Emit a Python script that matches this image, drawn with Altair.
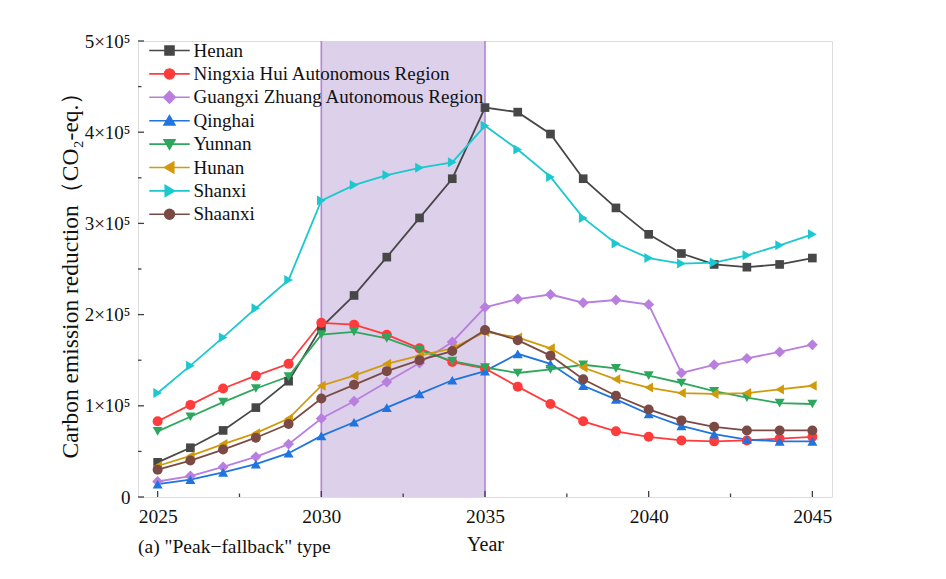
import altair as alt
import pandas as pd

FONT = "Liberation Serif"

years = list(range(2025, 2046))
regions = ["Henan", "Ningxia Hui Autonomous Region", "Guangxi Zhuang Autonomous Region",
           "Qinghai", "Yunnan", "Hunan", "Shanxi", "Shaanxi"]

henan = [38, 54, 73, 98, 127, 186, 221, 263, 306, 349, 427, 422, 398, 349, 317, 288, 267, 255, 252, 255, 262]
ningxia = [83, 101, 119, 133, 146, 191, 189, 178, 163, 148, 141, 121, 102, 83, 72, 66, 62, 61, 62, 64, 66]
guangxi = [17, 23, 33, 44, 58, 86, 105, 126, 147, 170, 208, 217, 222, 213, 216, 211, 136, 145, 152, 159, 167]
qinghai = [14, 19, 27, 36, 48, 67, 82, 98, 113, 128, 138, 157, 146, 122, 107, 91, 78, 69, 63, 61, 61]
yunnan = [72, 88, 104, 119, 132, 178, 181, 174, 161, 149, 142, 136, 140, 145, 141, 133, 125, 116, 109, 103, 102]
hunan = [34, 45, 58, 70, 86, 122, 133, 146, 155, 163, 181, 175, 163, 142, 129, 120, 114, 113, 114, 118, 122]
shanxi = [114, 144, 175, 207, 238, 325, 342, 353, 361, 367, 407, 381, 351, 306, 278, 262, 256, 257, 265, 276, 288]
shaanxi = [30, 40, 52, 65, 80, 108, 123, 138, 150, 160, 183, 172, 155, 129, 111, 96, 84, 77, 73, 73, 73]
series = [henan, ningxia, guangxi, qinghai, yunnan, hunan, shanxi, shaanxi]  # thousand t

colors = ["#474747", "#ff3b3b", "#b87fdf", "#1f74e0", "#2ea75e", "#d19a0c", "#1bc8cf", "#7b4a44"]
shapes = ["square", "circle", "diamond", "triangle-up", "triangle-down", "triangle-left",
          "triangle-right", "circle"]
sizes = [75, 100, 120, 100, 100, 100, 100, 100]
legend_paths = [
    "M-4.5,0H4.5M-1,-1H1V1H-1Z",
    "M-4.5,0H4.5M-1.1,0A1.1,1.1,0,1,1,1.1,0A1.1,1.1,0,1,1,-1.1,0Z",
    "M-4.5,0H4.5M-1.3,0L0,-1.3L1.3,0L0,1.3Z",
    "M-4.5,0H4.5M0,-1.1L-1.2,0.95L1.2,0.95Z",
    "M-4.5,0H4.5M0,1.1L-1.2,-0.95L1.2,-0.95Z",
    "M-4.5,0H4.5M-1.1,0L0.95,-1.2L0.95,1.2Z",
    "M-4.5,0H4.5M1.1,0L-0.95,-1.2L-0.95,1.2Z",
    "M-4.5,0H4.5M-1.1,0A1.1,1.1,0,1,1,1.1,0A1.1,1.1,0,1,1,-1.1,0Z",
]

band_start = [2030]
band_end = [2035]
x_major_ticks = [2025, 2030, 2035, 2040, 2045]
x_minor_ticks = [2027.5, 2032.5, 2037.5, 2042.5]
y_major_ticks = [0, 100000, 200000, 300000, 400000, 500000]
y_minor_ticks = [50000, 150000, 250000, 350000, 450000]

rows = []
for r, vals, c, s, z in zip(regions, series, colors, shapes, sizes):
    for yr, v in zip(years, vals):
        rows.append({"Region": r, "Year": yr, "Value": v * 1000, "Color": c, "Marker": s, "Size": z})
df = pd.DataFrame(rows)

W, H = 694, 456
frame_color = "#404040"

xscale = alt.Scale(domain=[2024.4, 2045.6], nice=False, zero=False)
yscale = alt.Scale(domain=[0, 500000], nice=False)
xaxis = alt.Axis(values=x_major_ticks, format="d", title="Year", ticks=False, domain=False,
                 grid=False, labelFont=FONT, labelFontSize=19.5, labelColor="#111",
                 labelPadding=10, titleFont=FONT, titleFontSize=20, titleFontWeight="normal",
                 titleColor="#111", titlePadding=9)
yaxis = alt.Axis(values=y_major_ticks, title="Carbon emission reduction（CO₂-eq.）",
                 labelExpr="datum.value == 0 ? '0' : format(datum.value / 100000, 'd') + '×10⁵'",
                 ticks=False, domain=False, grid=False, labelFont=FONT, labelFontSize=19,
                 labelColor="#111", labelPadding=8, titleFont=FONT, titleFontSize=23.5,
                 titleFontWeight="normal", titleColor="#111", titlePadding=2)

X = alt.X("Year:Q", scale=xscale, axis=xaxis)
Y = alt.Y("Value:Q", scale=yscale, axis=yaxis)

band_df = pd.DataFrame({"Year": band_start, "Year2": band_end})
band = alt.Chart(band_df).mark_rect(color="#ddd0ea").encode(x=X, x2="Year2:Q")
band_edges = alt.Chart(pd.DataFrame({"Year": band_start + band_end})).mark_rule(
    color="#b084d6", strokeWidth=1.6).encode(x=X)

lines = alt.Chart(df).mark_line(strokeWidth=1.8).encode(
    x=X, y=Y, color=alt.Color("Color:N", scale=None), detail="Region:N")
points = alt.Chart(df).mark_point(filled=True, opacity=1).encode(
    x=X, y=Y,
    color=alt.Color("Color:N", scale=None),
    shape=alt.Shape("Marker:N", scale=None),
    size=alt.Size("Size:Q", scale=None),
)

leg = alt.Legend(title=None, orient="none", legendX=22, legendY=0, labelFont=FONT,
                 labelFontSize=19, labelColor="#111", labelOffset=14.5, rowPadding=3.4,
                 symbolSize=81, symbolStrokeWidth=1.6, symbolOpacity=1, padding=0,
                 labelLimit=500)
dummy = alt.Chart(df).mark_point(filled=True, opacity=0).encode(
    x=X, y=Y,
    fill=alt.Fill("Region:N", scale=alt.Scale(domain=regions, range=colors), legend=leg),
    stroke=alt.Stroke("Region:N", scale=alt.Scale(domain=regions, range=colors), legend=leg),
    shape=alt.Shape("Region:N", scale=alt.Scale(domain=regions, range=legend_paths), legend=leg),
)

ytick_major = alt.Chart(pd.DataFrame({"Value": y_major_ticks})).mark_rule(
    color=frame_color, strokeWidth=1.3).encode(y=Y, x=alt.value(0), x2=alt.value(6))
ytick_minor = alt.Chart(pd.DataFrame({"Value": y_minor_ticks})).mark_rule(
    color=frame_color, strokeWidth=1.3).encode(y=Y, x=alt.value(0), x2=alt.value(3.5))
xtick_major = alt.Chart(pd.DataFrame({"Year": x_major_ticks})).mark_rule(
    color=frame_color, strokeWidth=1.3).encode(x=X, y=alt.value(H), y2=alt.value(H - 6))
xtick_minor = alt.Chart(pd.DataFrame({"Year": x_minor_ticks})).mark_rule(
    color=frame_color, strokeWidth=1.3).encode(x=X, y=alt.value(H), y2=alt.value(H - 3.5))

chart = alt.layer(
    band, band_edges, ytick_major, ytick_minor, xtick_major, xtick_minor, lines, points, dummy
).properties(
    width=W, height=H,
    autosize=alt.AutoSizeParams(type="none"),
    padding={"left": 130, "top": 33, "right": 100, "bottom": 74},
    title=alt.TitleParams('(a) "Peak−fallback" type', orient="bottom", anchor="start",
                          frame="group", font=FONT, fontSize=19.5, fontWeight="normal",
                          color="#111", offset=-17),
).configure_view(
    stroke=frame_color, strokeWidth=1.5
).configure(background="white")

chart.save("out.html", embed_options={"renderer": "svg", "actions": False})
